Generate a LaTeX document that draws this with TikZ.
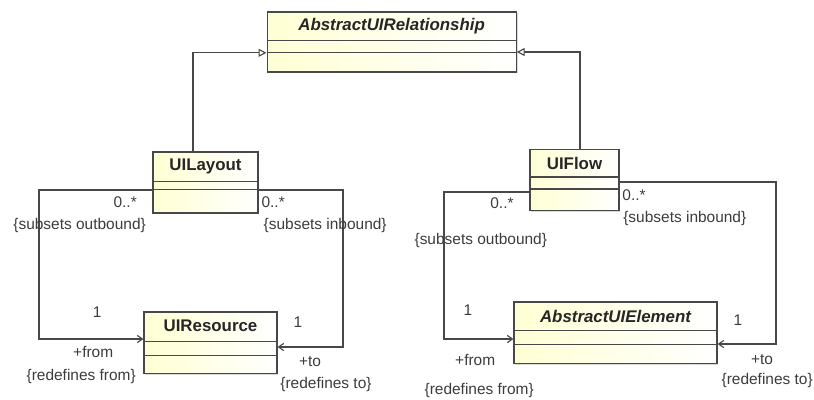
\documentclass[tikz,border=0pt]{standalone}
\usepackage{fontspec}
\setmainfont{Liberation Sans}
\usetikzlibrary{arrows.meta,shadows}

\definecolor{umlfill}{RGB}{255,255,212}
\definecolor{umlline}{RGB}{72,72,72}
\definecolor{umltext}{RGB}{60,60,60}

\begin{document}
\begin{tikzpicture}[x=1cm,y=1cm,
  classbox/.style={draw=umlline, line width=0.8pt, left color=umlfill, right color=white,
    drop shadow={shadow xshift=1pt, shadow yshift=-1pt, opacity=0.3}, inner sep=0pt},
  classname/.style={font=\fontsize{12}{14}\selectfont\bfseries, text=black!85},
  rolelabel/.style={font=\fontsize{11}{13}\selectfont, text=umltext, inner sep=1pt},
  compartment/.style={draw=umlline, line width=0.8pt},
  assoc/.style={draw=umlline, line width=0.8pt, -{Straight Barb[length=1.3mm,width=1.8mm]}},
  generalization/.style={draw=umlline, line width=0.8pt, -{Triangle[open,length=2mm,width=2mm,fill=white]}}]
  \useasboundingbox (0,0) rectangle (20.35,-9.975);

  % Class boxes
  \node[classbox, minimum width=6.225cm, minimum height=1.5cm] (rel) at (9.79,-1.05) {};
  \node[classname] (relname) at ([yshift=-0.37cm]rel.north) {\itshape AbstractUIRelationship};
  \draw[compartment] ([yshift=-0.72cm]rel.north west) -- ([yshift=-0.72cm]rel.north east);
  \draw[compartment] ([yshift=-1.03cm]rel.north west) -- ([yshift=-1.03cm]rel.north east);

  \node[classbox, minimum width=2.625cm, minimum height=1.525cm] (layout) at (5.1375,-4.5625) {};
  \node[classname] (layoutname) at ([yshift=-0.37cm]layout.north) {UILayout};
  \draw[compartment] ([yshift=-0.75cm]layout.north west) -- ([yshift=-0.75cm]layout.north east);
  \draw[compartment] ([yshift=-0.95cm]layout.north west) -- ([yshift=-0.95cm]layout.north east);

  \node[classbox, minimum width=2.225cm, minimum height=1.545cm] (flow) at (14.3625,-4.5) {};
  \node[classname] (flowname) at ([yshift=-0.37cm]flow.north) {UIFlow};
  \draw[compartment] ([yshift=-0.71cm]flow.north west) -- ([yshift=-0.71cm]flow.north east);
  \draw[compartment] ([yshift=-1.01cm]flow.north west) -- ([yshift=-1.01cm]flow.north east);

  \node[classbox, minimum width=3.325cm, minimum height=1.53cm] (resource) at (5.2625,-8.565) {};
  \node[classname] (resourcename) at ([yshift=-0.37cm]resource.north) {UIResource};
  \draw[compartment] ([yshift=-0.75cm]resource.north west) -- ([yshift=-0.75cm]resource.north east);
  \draw[compartment] ([yshift=-1.1cm]resource.north west) -- ([yshift=-1.1cm]resource.north east);

  \node[classbox, minimum width=5.075cm, minimum height=1.53cm] (element) at (15.3875,-8.315) {};
  \node[classname] (elementname) at ([yshift=-0.37cm]element.north) {\itshape AbstractUIElement};
  \draw[compartment] ([yshift=-0.725cm]element.north west) -- ([yshift=-0.725cm]element.north east);
  \draw[compartment] ([yshift=-1.075cm]element.north west) -- ([yshift=-1.075cm]element.north east);

  % Generalizations
  \coordinate (g1) at (4.825,-1.32);
  \coordinate (g2) at (14.5,-1.3);
  \draw[generalization] (layout.north -| g1) -- (g1) -- (rel.west |- g1);
  \draw[generalization] (flow.north -| g2) -- (g2) -- (rel.east |- g2);

  % Associations
  \coordinate (lo1) at (0.975,-4.75);
  \coordinate (lo2) at (0.975,-8.475);
  \coordinate (li1) at (8.575,-4.75);
  \coordinate (li2) at (8.575,-8.675);
  \coordinate (fo1) at (11.1,-4.8);
  \coordinate (fo2) at (11.1,-8.475);
  \coordinate (fi1) at (19.4,-4.55);
  \coordinate (fi2) at (19.4,-8.6);
  \draw[assoc] (layout.west |- lo1) -- (lo1) -- (lo2) -- (resource.west |- lo2);
  \draw[assoc] (layout.east |- li1) -- (li1) -- (li2) -- (resource.east |- li2);
  \draw[assoc] (flow.west |- fo1) -- (fo1) -- (fo2) -- (element.west |- fo2);
  \draw[assoc] (flow.east |- fi1) -- (fi1) -- (fi2) -- (element.east |- fi2);

  % Role labels, left
  \node[rolelabel] (lomult) at (3.13,-5.05) {0..*};
  \node[rolelabel] (losub) at (1.99,-5.63) {\{subsets outbound\}};
  \node[rolelabel] (limult) at (6.83,-5.05) {0..*};
  \node[rolelabel] (lisub) at (8.13,-5.63) {\{subsets inbound\}};
  \node[rolelabel] (rfmult) at (2.43,-7.8) {1};
  \node[rolelabel] (rfrole) at (2.33,-8.8) {+from};
  \node[rolelabel] (rfredef) at (2.03,-9.4) {\{redefines from\}};
  \node[rolelabel] (rtmult) at (7.45,-8.05) {1};
  \node[rolelabel] (rtrole) at (7.75,-9.05) {+to};
  \node[rolelabel] (rtredef) at (8.15,-9.62) {\{redefines to\}};

  % Role labels, right
  \node[rolelabel] (fomult) at (12.55,-5.08) {0..*};
  \node[rolelabel] (fosub) at (12.02,-6.0) {\{subsets outbound\}};
  \node[rolelabel] (fimult) at (15.85,-4.88) {0..*};
  \node[rolelabel] (fisub) at (17.12,-5.45) {\{subsets inbound\}};
  \node[rolelabel] (efmult) at (11.7,-7.75) {1};
  \node[rolelabel] (efrole) at (11.88,-9.0) {+from};
  \node[rolelabel] (efredef) at (11.98,-9.75) {\{redefines from\}};
  \node[rolelabel] (etmult) at (18.45,-8.0) {1};
  \node[rolelabel] (etrole) at (19.05,-9.0) {+to};
  \node[rolelabel] (etredef) at (19.18,-9.5) {\{redefines to\}};
\end{tikzpicture}
\end{document}
